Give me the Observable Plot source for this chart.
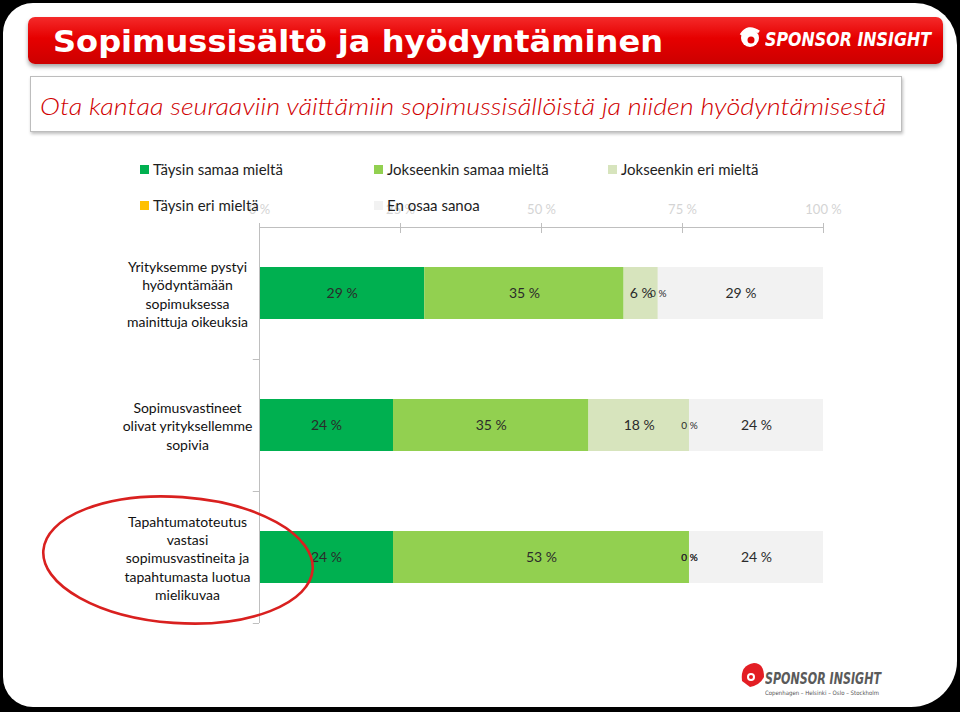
<!DOCTYPE html>
<html>
<head>
<meta charset="utf-8">
<script src="https://cdn.jsdelivr.net/npm/d3@7"></script>
<script src="https://cdn.jsdelivr.net/npm/@observablehq/plot@0.6"></script>
<style>
  html, body { margin: 0; padding: 0; }
  body { width: 960px; height: 712px; background: #000; position: relative; overflow: hidden; font-family: Lato, "Open Sans", sans-serif; }
  #panel { position: absolute; left: 3px; top: 3px; width: 954px; height: 704px; background: #fff; border-radius: 30px 42px 46px 30px; }
  #header { position: absolute; left: 28px; top: 17px; width: 915px; height: 47px; border-radius: 7px;
    background: linear-gradient(#f42a2a 0%, #e60000 45%, #cc0000 100%); box-shadow: 0 3px 4px rgba(0,0,0,0.35); }
  .fit { position: absolute; white-space: nowrap; transform-origin: 0 0; }
  #title { left: 53px; top: 24px; font-family: "DejaVu Sans", sans-serif; font-weight: bold; font-size: 30px; color: #fff; line-height: 36px; }
  #logoTop { left: 765px; top: 27px; font-family: "DejaVu Sans", sans-serif; font-weight: bold; font-style: italic; font-size: 19px; color: #fff; line-height: 24px; }
  #subbox { position: absolute; left: 30px; top: 76px; width: 870px; height: 54px; border: 1px solid #bdbdbd; background: #fff;
    box-shadow: 1px 2px 3px rgba(0,0,0,0.25); }
  #subtitle { left: 40px; top: 91px; font-family: Lato, sans-serif; font-style: italic; font-weight: 300; font-size: 24px; color: #d00000; line-height: 30px; }
  #legend { position: absolute; left: 0; top: 0; z-index: 3; }
  .li { position: absolute; font-family: Lato, sans-serif; font-size: 15px; color: #1e1e1e; white-space: nowrap; line-height: 18px; }
  .li span.sw { position: absolute; left: -13px; top: 5px; width: 9px; height: 9px; }
  #chart { position: absolute; left: 0; top: 190px; z-index: 1; }
  #ann { position: absolute; left: 0; top: 0; z-index: 4; pointer-events: none; }
  #logoBot { left: 765px; top: 670px; font-family: "DejaVu Sans", sans-serif; font-weight: bold; font-style: italic; font-size: 15px; color: #5a5a5a; line-height: 18px; }
  #cities { left: 765px; top: 689px; font-family: "DejaVu Sans", sans-serif; font-size: 6px; color: #555; line-height: 8px; }
</style>
</head>
<body>
<div id="panel"></div>
<div id="header"></div>
<div id="title" class="fit" data-w="610">Sopimussisältö ja hyödyntäminen</div>
<div id="logoTop" class="fit" data-w="166">SPONSOR INSIGHT</div>
<div id="subbox"></div>
<div id="subtitle" class="fit" data-w="846">Ota kantaa seuraaviin väittämiin sopimussisällöistä ja niiden hyödyntämisestä</div>
<div id="legend"></div>
<div id="chart"></div>
<div id="logoBot" class="fit" data-w="116">SPONSOR INSIGHT</div>
<div id="cities" class="fit" data-w="114">Copenhagen – Helsinki – Oslo – Stockholm</div>
<svg id="ann" width="960" height="712">
  <g transform="translate(750,38)">
    <circle r="9" fill="#fff"/>
    <circle cx="1" cy="2" r="3.5" fill="#e00000"/>
    <path d="M-9,-3 Q-2,-14 9,-6" stroke="#fff" stroke-width="3" fill="none"/>
  </g>
  <g transform="translate(752,675)">
    <path d="M-10,6 Q-12,-10 2,-12 Q12,-12 12,2 Q8,10 -2,12 Z" fill="#e31e24"/>
    <circle cx="-1" cy="2" r="4" fill="#fff"/>
    <circle cx="-1" cy="2" r="2" fill="#e31e24"/>
  </g>
  <ellipse cx="178" cy="560" rx="135" ry="63" transform="rotate(4 178 560)" fill="none" stroke="#d9201f" stroke-width="2.6"/>
</svg>
<script>
// ---- data ----
const categories = [
  "Yrityksemme pystyi\nhyödyntämään\nsopimuksessa\nmainittuja oikeuksia",
  "Sopimusvastineet\nolivat yrityksellemme\nsopivia",
  "Tapahtumatoteutus\nvastasi\nsopimusvastineita ja\ntapahtumasta luotua\nmielikuvaa"
];
const seriesNames = ["Täysin samaa mieltä", "Jokseenkin samaa mieltä", "Jokseenkin eri mieltä", "Täysin eri mieltä", "En osaa sanoa"];
const seriesColors = ["#00b050", "#92d050", "#d7e4bd", "#ffc000", "#f2f2f2"];
const taysinSamaa = [29, 24, 24];
const jokseenkinSamaa = [35, 35, 53];
const jokseenkinEri = [6, 18, 0];
const taysinEri = [0, 0, 0];
const enOsaa = [29, 24, 24];
const xTicks = [0, 0.25, 0.5, 0.75, 1];

const seriesValues = [taysinSamaa, jokseenkinSamaa, jokseenkinEri, taysinEri, enOsaa];
const rows = [];
seriesNames.forEach((s, si) => categories.forEach((c, ci) => rows.push({cat: c, series: s, value: seriesValues[si][ci]})));

// ---- legend ----
const legendPos = [[153, 160], [387, 160], [621, 160], [153, 196], [387, 196]];
const legend = document.getElementById("legend");
seriesNames.forEach((s, i) => {
  const d = document.createElement("div");
  d.className = "li";
  d.style.left = legendPos[i][0] + "px";
  d.style.top = legendPos[i][1] + "px";
  d.innerHTML = `<span class="sw" style="background:${seriesColors[i]}"></span>${s}`;
  legend.appendChild(d);
});

// ---- chart (100 % stacked) ----
const W = 960, H = 440, mt = 37, mb = 7;
const step = (H - mt - mb) / categories.length;
const axisGray = "#bfbfbf";
const chart = Plot.plot({
  width: W, height: H,
  marginLeft: 259, marginRight: 137, marginTop: mt, marginBottom: mb,
  style: {fontFamily: "Lato, sans-serif", background: "transparent"},
  x: {domain: [0, 1], axis: null},
  y: {domain: categories, padding: 0, axis: null},
  color: {domain: seriesNames, range: seriesColors},
  marks: [
    Plot.barX(rows, Plot.stackX({x: "value", y: "cat", fill: "series", order: seriesNames, offset: "normalize", insetTop: 40, insetBottom: 40})),
    Plot.frame({anchor: "top", stroke: axisGray}),
    Plot.ruleX([0], {stroke: axisGray}),
    Plot.ruleY(categories, {y: d => d, x1: -0.011, x2: 0, dy: step / 2, stroke: axisGray}),
    Plot.axisX({anchor: "top", ticks: xTicks, tickSize: 10, dy: 5, tickPadding: 9, stroke: axisGray, fill: "#d4d4d4",
      tickFormat: d => Math.round(d * 100) + " %", fontSize: 13, label: null}),
    Plot.text(categories, {y: d => d, text: d => d, frameAnchor: "left", dx: -72, textAnchor: "middle",
      fontSize: 14, lineHeight: 1.31, fill: "#111"}),
    Plot.text(rows, Plot.stackX({x: "value", y: "cat", z: "series", order: seriesNames, offset: "normalize",
      text: d => d.value + " %", fontSize: d => d.value === 0 ? 10 : 14, fill: "#2b2b2b"}))
  ]
});
document.getElementById("chart").appendChild(chart);

// ---- fit decorative text widths ----
document.querySelectorAll(".fit").forEach(el => {
  const target = +el.dataset.w;
  const w = el.getBoundingClientRect().width;
  if (w > 0) el.style.transform = `scaleX(${target / w})`;
});
</script>
</body>
</html>
